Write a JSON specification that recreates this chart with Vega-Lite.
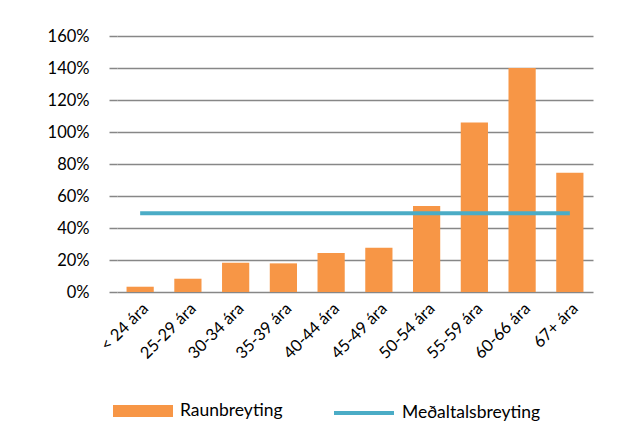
{
  "$schema": "https://vega.github.io/schema/vega-lite/v6.json",
  "autosize": "none",
  "width": 476,
  "height": 256,
  "padding": {"left": 117, "top": 36, "right": 45, "bottom": 139},
  "background": "white",
  "config": {
    "view": {"stroke": null},
    "font": "Lato",
    "axis": {"labelFont": "Lato", "labelColor": "#000000", "labelFontSize": 16.5},
    "axisY": {
      "domain": false,
      "ticks": true,
      "tickSize": 8,
      "tickColor": "#878787",
      "tickWidth": 1.5,
      "gridColor": "#878787",
      "gridWidth": 1.5,
      "labelPadding": 20,
      "labelOverlap": false
    },
    "legend": {"labelFont": "Lato", "labelColor": "#000000", "labelFontSize": 17.5}
  },
  "data": {
    "values": [
      {"age": "< 24 ára", "raun": 0.033, "medal": 0.492, "s1": "Raunbreyting", "s2": "Meðaltalsbreyting"},
      {"age": "25-29 ára", "raun": 0.083, "medal": 0.492, "s1": "Raunbreyting", "s2": "Meðaltalsbreyting"},
      {"age": "30-34 ára", "raun": 0.183, "medal": 0.492, "s1": "Raunbreyting", "s2": "Meðaltalsbreyting"},
      {"age": "35-39 ára", "raun": 0.179, "medal": 0.492, "s1": "Raunbreyting", "s2": "Meðaltalsbreyting"},
      {"age": "40-44 ára", "raun": 0.244, "medal": 0.492, "s1": "Raunbreyting", "s2": "Meðaltalsbreyting"},
      {"age": "45-49 ára", "raun": 0.277, "medal": 0.492, "s1": "Raunbreyting", "s2": "Meðaltalsbreyting"},
      {"age": "50-54 ára", "raun": 0.5375, "medal": 0.492, "s1": "Raunbreyting", "s2": "Meðaltalsbreyting"},
      {"age": "55-59 ára", "raun": 1.06, "medal": 0.492, "s1": "Raunbreyting", "s2": "Meðaltalsbreyting"},
      {"age": "60-66 ára", "raun": 1.40, "medal": 0.492, "s1": "Raunbreyting", "s2": "Meðaltalsbreyting"},
      {"age": "67+ ára", "raun": 0.745, "medal": 0.492, "s1": "Raunbreyting", "s2": "Meðaltalsbreyting"}
    ]
  },
  "encoding": {
    "x": {
      "field": "age",
      "type": "nominal",
      "sort": null,
      "title": null,
      "scale": {"paddingInner": 0.43, "paddingOuter": 0.2},
      "axis": {"labelAngle": -45, "ticks": false, "domain": false, "labelPadding": 8}
    }
  },
  "layer": [
    {
      "mark": {"type": "bar"},
      "encoding": {
        "y": {
          "field": "raun",
          "type": "quantitative",
          "title": null,
          "scale": {"domain": [0, 1.6], "nice": false},
          "axis": {
            "format": ".0%",
            "values": [0, 0.2, 0.4, 0.6, 0.8, 1.0, 1.2, 1.4, 1.6],
            "labelOverlap": false
          }
        },
        "fill": {
          "field": "s1",
          "type": "nominal",
          "scale": {"range": ["#F79646"]},
          "legend": {
            "title": null,
            "orient": "none",
            "legendX": -4,
            "legendY": 345,
            "padding": 0,
            "symbolType": "M-1,-0.2H1V0.2H-1Z",
            "symbolSize": 3600,
            "symbolStrokeWidth": 0,
            "labelOffset": 7
          }
        }
      }
    },
    {
      "mark": {"type": "line", "strokeWidth": 4},
      "encoding": {
        "y": {
          "field": "medal",
          "type": "quantitative",
          "title": null,
          "axis": {
            "format": ".0%",
            "values": [0, 0.2, 0.4, 0.6, 0.8, 1.0, 1.2, 1.4, 1.6],
            "labelOverlap": false
          }
        },
        "stroke": {
          "field": "s2",
          "type": "nominal",
          "scale": {"range": ["#4BACC6"]},
          "legend": {
            "title": null,
            "orient": "none",
            "legendX": 215,
            "legendY": 345,
            "padding": 0,
            "symbolType": "stroke",
            "symbolSize": 3600,
            "symbolStrokeWidth": 4,
            "labelOffset": 6
          }
        }
      }
    }
  ]
}
